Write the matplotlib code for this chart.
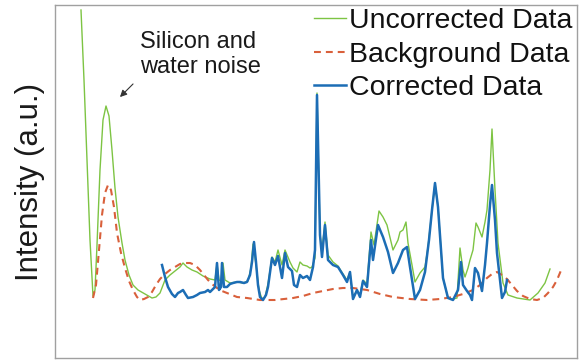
import matplotlib
matplotlib.use("Agg")
import matplotlib.pyplot as plt

plt.rcParams['font.family'] = ['Liberation Sans', 'DejaVu Sans']

# Raman-type spectrum, arbitrary units
uncorr_x = [81, 84, 87, 90, 93, 95, 97, 100, 103, 106, 109, 112, 115, 118, 122, 125, 129, 133, 138, 145,
            152, 156, 160, 165, 170, 175, 180, 183, 187, 192, 197, 203, 210, 215, 217, 219, 221, 223, 225, 230,
            237, 243, 248, 251, 253, 256, 259, 262, 265, 268, 272, 275, 278, 282, 285, 290, 293, 297, 300, 303,
            307, 310, 312, 315, 317, 320, 322, 325, 328, 333, 338, 343, 347, 350, 353, 357, 360, 363, 367, 371,
            374, 379, 383, 387, 393, 398, 400, 403, 406, 408, 412, 415, 420, 425, 428, 432, 435, 438, 443, 448,
            453, 457, 460, 463, 465, 468, 470, 473, 476, 478, 480, 482, 485, 487, 490, 492, 495, 498, 503, 508,
            517, 530, 538, 545, 550]
uncorr_y = [290, 220, 140, 60, 4, 10, 55, 130, 180, 194, 184, 150, 112, 83, 57, 40, 25, 15, 10, 6,
            2, 3, 7, 20, 25, 29, 33, 37, 33, 30, 28, 24, 21, 20, 36, 20, 19, 37, 20, 17,
            18, 17, 19, 32, 56, 35, 10, 1, 3, 16, 43, 38, 50, 35, 50, 38, 32, 28, 38, 35,
            34, 32, 33, 42, 207, 65, 50, 78, 45, 38, 34, 26, 20, 28, 2, 10, 5, 20, 16, 68,
            55, 89, 83, 75, 50, 60, 68, 70, 78, 57, 35, 18, 27, 33, 53, 90, 117, 93, 22, 2,
            1, 2, 52, 30, 23, 32, 40, 50, 77, 73, 68, 63, 78, 90, 130, 171, 110, 57, 17, 5,
            2, 0, 7, 17, 31]

bg_x = [93, 96, 99, 102, 105, 108, 111, 114, 117, 121, 125, 129, 133, 137, 140, 144, 148, 152, 156, 160,
        165, 170, 175, 180, 185, 190, 195, 200, 204, 208, 212, 217, 222, 227, 237, 247, 260, 275, 293, 303,
        313, 323, 333, 343, 353, 360, 367, 380, 393, 410, 427, 440, 453, 463, 473, 480, 487, 492, 497, 502,
        507, 512, 517, 523, 530, 537, 543, 548, 553, 557, 562]
bg_y = [2, 15, 50, 85, 107, 115, 110, 93, 67, 47, 32, 19, 10, 3, 0, 1, 3, 8, 15, 21,
        26, 30, 33, 36, 37, 37, 35, 30, 25, 20, 16, 12, 9, 7, 3, 2, 0, 0, 2, 4,
        7, 9, 11, 12, 12, 11, 10, 6, 3, 1, 0, 1, 3, 6, 10, 15, 22, 26, 28, 25,
        21, 15, 9, 4, 1, 0, 2, 7, 13, 20, 32]

corr_x = [162, 165, 168, 172, 175, 178, 180, 183, 186, 188, 193, 197, 200, 205, 208, 210, 213, 215, 217, 219,
          221, 222, 224, 227, 230, 233, 237, 240, 244, 247, 250, 252, 254, 256, 258, 260, 263, 266, 268, 272,
          275, 278, 282, 285, 288, 292, 294, 297, 300, 303, 307, 310, 313, 315, 317, 320, 322, 325, 328, 333,
          338, 343, 347, 350, 353, 357, 360, 363, 367, 371, 373, 378, 383, 388, 393, 398, 403, 407, 410, 415,
          420, 425, 429, 432, 435, 438, 443, 448, 453, 458, 461, 463, 467, 470, 472, 475, 478, 482, 485, 487,
          490, 492, 495, 497, 500, 502, 505, 507]
corr_y = [35, 23, 13, 6, 3, 7, 8, 10, 5, 2, 3, 5, 7, 8, 10, 8, 11, 13, 37, 10,
          13, 37, 13, 13, 16, 17, 18, 18, 17, 18, 25, 38, 58, 38, 15, 3, 0, 5, 13, 42,
          35, 44, 22, 47, 33, 29, 15, 13, 25, 22, 24, 20, 33, 50, 205, 65, 43, 75, 40, 35,
          33, 25, 18, 28, 1, 10, 3, 19, 13, 60, 40, 75, 63, 48, 27, 37, 50, 53, 33, 1,
          10, 28, 60, 90, 117, 93, 22, 2, 0, 10, 38, 15, 9, 5, 0, 32, 27, 9, 35, 57,
          95, 115, 80, 47, 20, 2, 8, 20]

labels = ["Uncorrected Data", "Background Data", "Corrected Data"]
annotation = "Silicon and\nwater noise"

fig = plt.figure(figsize=(5.79, 3.60), dpi=100)
ax = fig.add_axes([55 / 579, 2 / 360, 522 / 579, 353 / 360])

green = "#7dc443"
red = "#d9603b"
blue = "#1c6db5"

ax.plot(uncorr_x, uncorr_y, color=green, lw=1.0, label=labels[0])
ax.plot(bg_x, bg_y, color=red, lw=1.5, dashes=(3.3, 2.4), label=labels[1])
ax.plot(corr_x, corr_y, color=blue, lw=1.8, label=labels[2])

ax.set_xlim(55, 577)
ax.set_ylim(-58, 295)
ax.set_xticks([])
ax.set_yticks([])
for sp in ax.spines.values():
    sp.set_color("#a0a0a0")
    sp.set_linewidth(1.0)

fig.text(30 / 579, 1 - 182 / 360, "Intensity (a.u.)", rotation=90,
         ha="center", va="center", fontsize=22.5, color="#1a1a1a")

ax.text(140, 269, annotation, ha="left", va="top", fontsize=17, color="#1a1a1a",
        linespacing=1.15)
ax.annotate("", xy=(118, 201), xytext=(135, 218),
            arrowprops=dict(arrowstyle="-|>", color="#333333", lw=0.8, mutation_scale=10))

leg = ax.legend(loc="upper right", bbox_to_anchor=(572 / 579, 1 - 8 / 360),
                bbox_transform=fig.transFigure, frameon=False, fontsize=20.5,
                handlelength=1.1, handletextpad=0.1, labelspacing=0.27,
                borderpad=0.0, borderaxespad=0.0)
for t in leg.get_texts():
    t.set_color("#111111")

fig.savefig("out.png", dpi=100)
